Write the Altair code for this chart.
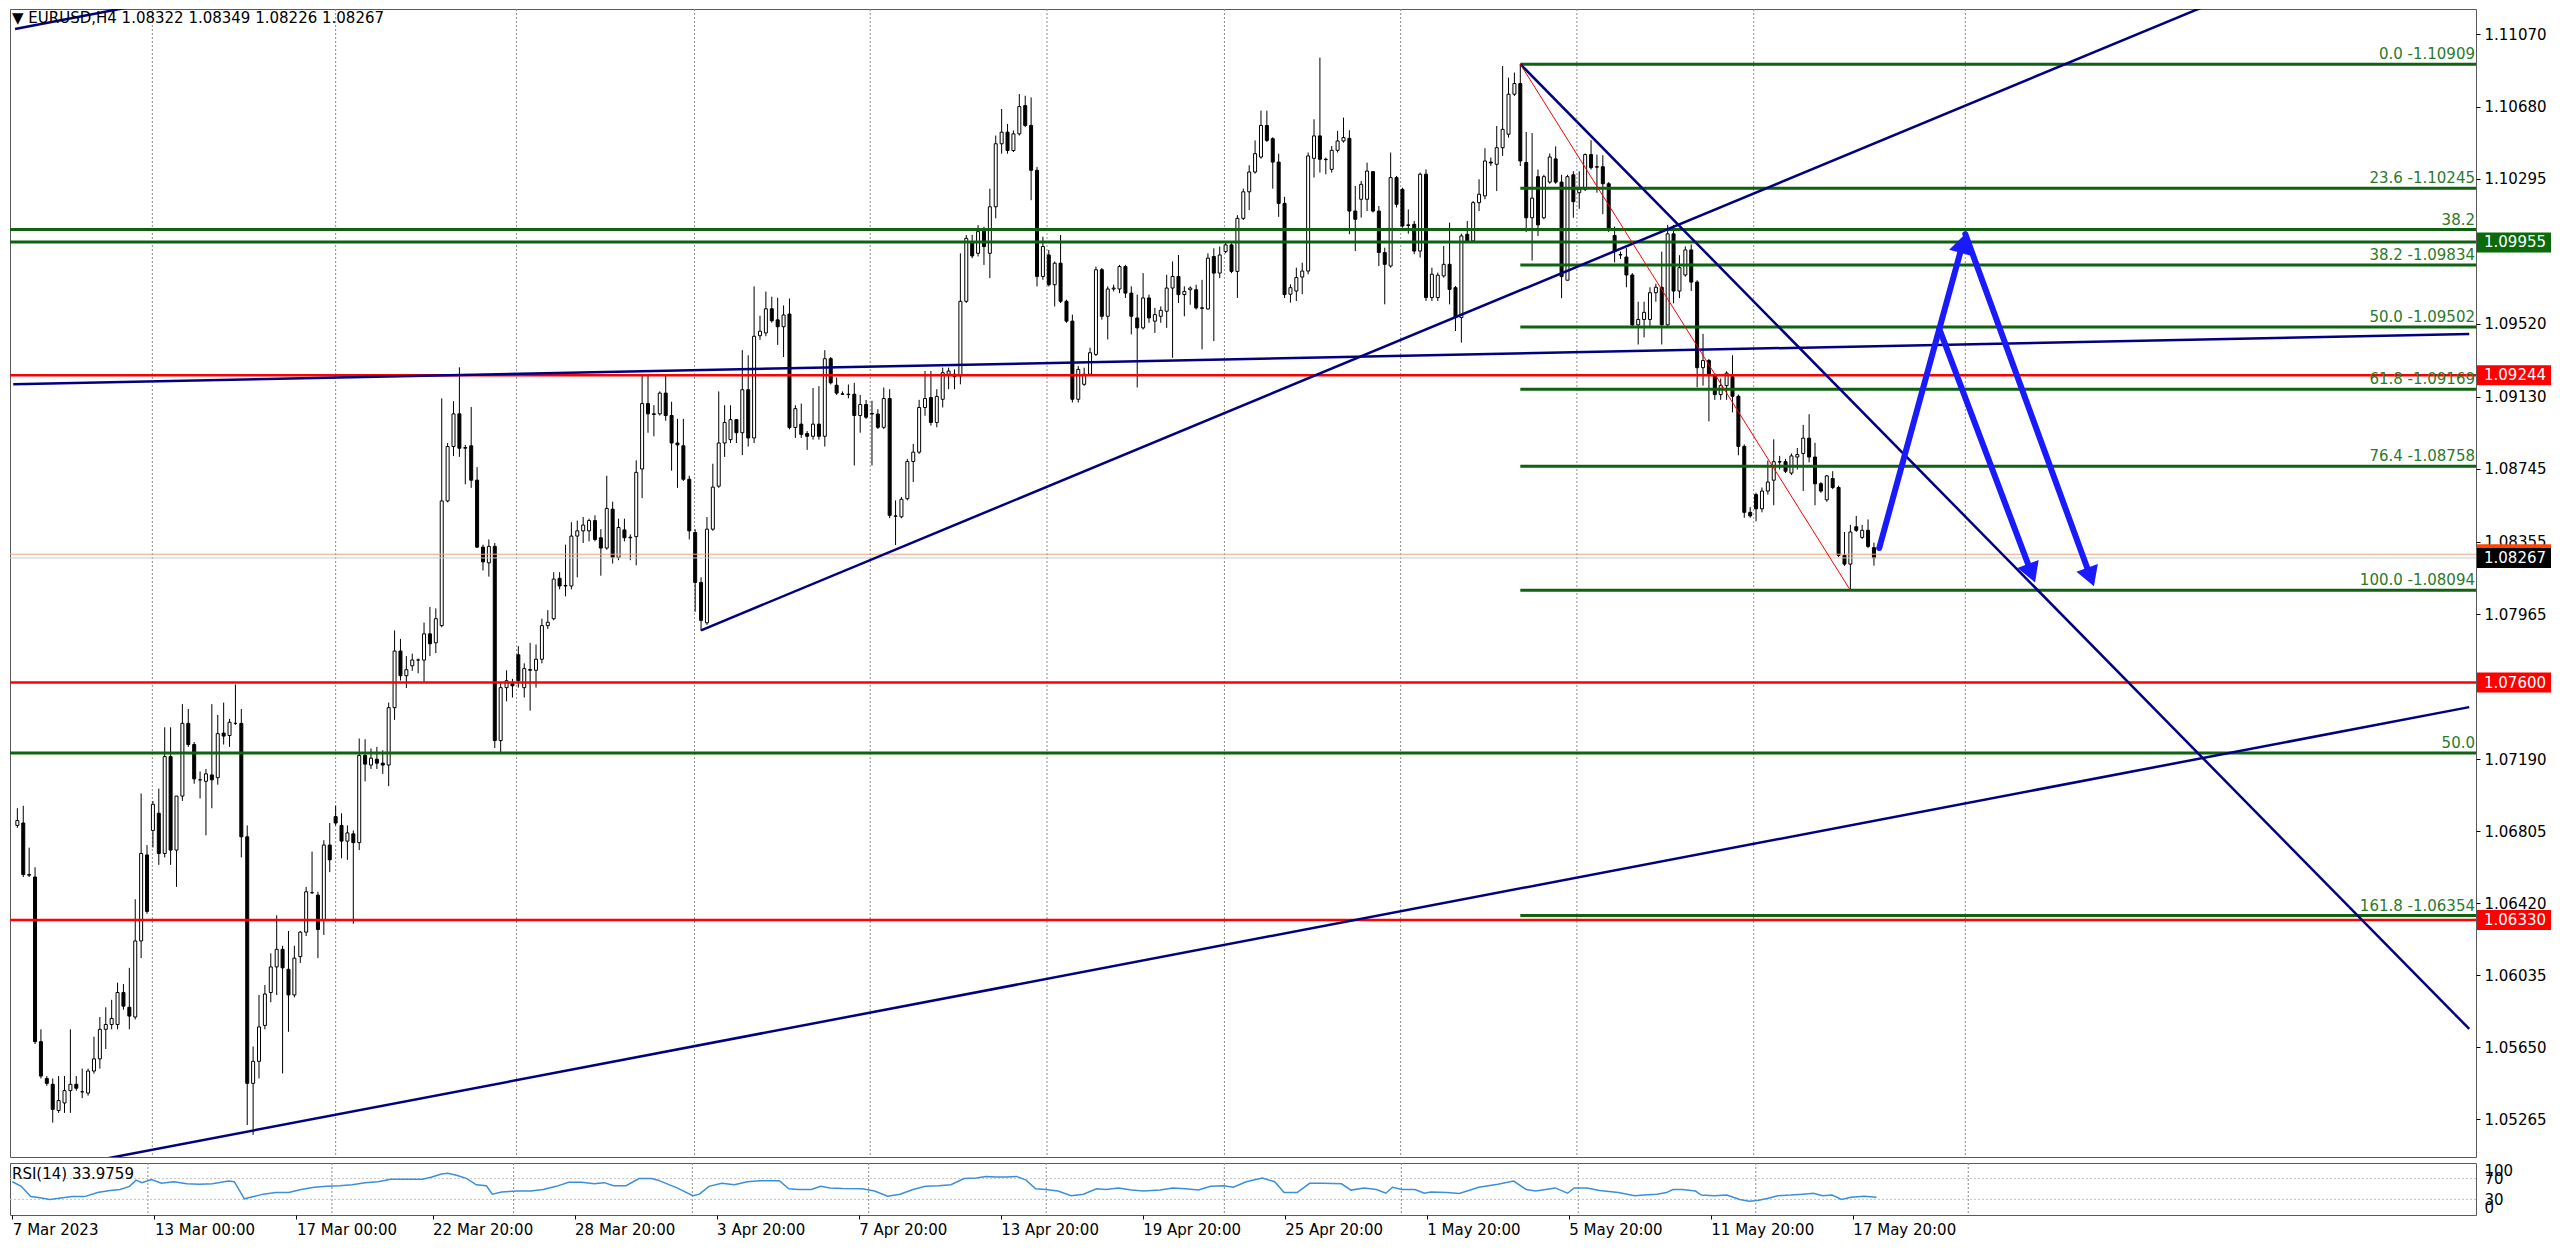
import math
import altair as alt
import pandas as pd

# ---------------- data (EURUSD H4) ----------------
opens = [
    1.06836, 1.06849, 1.06573, 1.06560, 1.05679, 1.05482, 1.05451, 1.05311, 1.05351, 1.05417,
    1.05451, 1.05411, 1.05404, 1.05522, 1.05587, 1.05745, 1.05771, 1.05771, 1.05942, 1.05863,
    1.05811, 1.06218, 1.06678, 1.06809, 1.06901, 1.06686, 1.07204, 1.06704, 1.06993, 1.07382,
    1.07269, 1.07080, 1.07072, 1.07106, 1.07091, 1.07330, 1.07317, 1.07382, 1.07382, 1.06775,
    1.05456, 1.05574, 1.05766, 1.05942, 1.06079, 1.06173, 1.06066, 1.05929, 1.06134, 1.06265,
    1.06476, 1.06463, 1.06331, 1.06731, 1.06883, 1.06836, 1.06752, 1.06791, 1.06744, 1.07211,
    1.07159, 1.07190, 1.07169, 1.07159, 1.07466, 1.07769, 1.07637, 1.07690, 1.07721, 1.07721,
    1.07861, 1.07813, 1.07905, 1.08572, 1.08863, 1.09038, 1.08854, 1.08867, 1.08683, 1.08325,
    1.08241, 1.08329, 1.07290, 1.07573, 1.07601, 1.07749, 1.07573, 1.07666, 1.07666, 1.07725,
    1.07905, 1.07942, 1.08158, 1.08117, 1.08117, 1.08384, 1.08412, 1.08412, 1.08467, 1.08375,
    1.08320, 1.08528, 1.08270, 1.08417, 1.08375, 1.08381, 1.08743, 1.09093, 1.09038, 1.09038,
    1.09149, 1.09029, 1.08882, 1.08867, 1.08688, 1.08403, 1.08136, 1.07920, 1.08421, 1.08651,
    1.08882, 1.08900, 1.09007, 1.08937, 1.09167, 1.08909, 1.09456, 1.09471, 1.09600, 1.09541,
    1.09504, 1.09572, 1.08965, 1.08983, 1.08933, 1.08918, 1.08983, 1.08918, 1.09333, 1.09191,
    1.09145, 1.09143, 1.09143, 1.09029, 1.09088, 1.09037, 1.09037, 1.08966, 1.09120, 1.08492,
    1.08487, 1.08584, 1.08783, 1.08833, 1.09072, 1.09125, 1.08992, 1.09116, 1.09250, 1.09250,
    1.09241, 1.09640, 1.09960, 1.09897, 1.10021, 1.09897, 1.10146, 1.10483, 1.10545, 1.10447,
    1.10536, 1.10687, 1.10581, 1.10341, 1.09773, 1.09888, 1.09729, 1.09844, 1.09640, 1.09534,
    1.09116, 1.09196, 1.09250, 1.09356, 1.09809, 1.09560, 1.09706, 1.09706, 1.09826, 1.09684,
    1.09551, 1.09498, 1.09658, 1.09534, 1.09560, 1.09587, 1.09711, 1.09773, 1.09676, 1.09702,
    1.09702, 1.09605, 1.09599, 1.09880, 1.09791, 1.09906, 1.09942, 1.09800, 1.10084, 1.10226,
    1.10332, 1.10412, 1.10581, 1.10510, 1.10385, 1.10164, 1.09678, 1.09695, 1.09770, 1.09802,
    1.10405, 1.10525, 1.10400, 1.10346, 1.10448, 1.10498, 1.10512, 1.10123, 1.10186, 1.10186,
    1.10334, 1.10123, 1.09901, 1.09829, 1.10302, 1.10239, 1.10049, 1.10052, 1.09909, 1.10320,
    1.09660, 1.09660, 1.09776, 1.09838, 1.09713, 1.09553, 1.09999, 1.09963, 1.10168, 1.10204,
    1.10385, 1.10373, 1.10462, 1.10534, 1.10748, 1.10805, 1.10383, 1.10087, 1.10307, 1.10087,
    1.10278, 1.10402, 1.10278, 1.09753, 1.10317, 1.10221, 1.10240, 1.10425, 1.10360, 1.10360,
    1.10269, 1.09992, 1.09890, 1.09877, 1.09781, 1.09514, 1.09543, 1.09543, 1.09686, 1.09715,
    1.09514, 1.10001, 1.09695, 1.09781, 1.09915, 1.09743, 1.09285, 1.09323, 1.09247, 1.09141,
    1.09189, 1.09237, 1.09132, 1.08864, 1.08511, 1.08606, 1.08530, 1.08625, 1.08683, 1.08782,
    1.08782, 1.08721, 1.08807, 1.08826, 1.08908, 1.08807, 1.08664, 1.08578, 1.08692, 1.08644,
    1.08281, 1.08234, 1.08434, 1.08377, 1.08415, 1.08322,
]
highs = [
    1.06928, 1.06941, 1.06717, 1.06612, 1.05745, 1.05495, 1.05482, 1.05495, 1.05495, 1.05745,
    1.05495, 1.05535, 1.05535, 1.05706, 1.05811, 1.05863, 1.05903, 1.05995, 1.05987, 1.06074,
    1.06441, 1.07007, 1.06731, 1.06967, 1.07033, 1.07361, 1.07361, 1.06993, 1.07485, 1.07459,
    1.07282, 1.07125, 1.07138, 1.07485, 1.07427, 1.07493, 1.07406, 1.07590, 1.07459, 1.06836,
    1.05653, 1.05929, 1.05982, 1.06152, 1.06355, 1.06192, 1.06271, 1.06192, 1.06271, 1.06507,
    1.06696, 1.06481, 1.06757, 1.06849, 1.06941, 1.06901, 1.06836, 1.06809, 1.07301, 1.07297,
    1.07248, 1.07256, 1.07238, 1.07493, 1.07879, 1.07834, 1.07742, 1.07755, 1.07729, 1.07921,
    1.08005, 1.07997, 1.09121, 1.08882, 1.09106, 1.09287, 1.08872, 1.09075, 1.08753, 1.08338,
    1.08366, 1.08347, 1.07601, 1.07666, 1.07620, 1.07795, 1.07703, 1.07813, 1.07804, 1.07942,
    1.07988, 1.08191, 1.08191, 1.08338, 1.08458, 1.08467, 1.08486, 1.08477, 1.08495, 1.08421,
    1.08707, 1.08568, 1.08477, 1.08477, 1.08393, 1.08789, 1.09250, 1.09250, 1.09084, 1.09158,
    1.09250, 1.09103, 1.09011, 1.09011, 1.08707, 1.08421, 1.08163, 1.08486, 1.08771, 1.09158,
    1.09084, 1.09084, 1.09011, 1.09379, 1.09351, 1.09720, 1.09563, 1.09692, 1.09665, 1.09659,
    1.09618, 1.09655, 1.09084, 1.09093, 1.08946, 1.09176, 1.09186, 1.09379, 1.09342, 1.09232,
    1.09158, 1.09195, 1.09204, 1.09139, 1.09112, 1.09108, 1.09063, 1.09179, 1.09170, 1.08575,
    1.08593, 1.08797, 1.08877, 1.09113, 1.09267, 1.09267, 1.09170, 1.09285, 1.09285, 1.09276,
    1.09897, 1.09995, 1.09995, 1.10048, 1.10039, 1.10243, 1.10527, 1.10669, 1.10589, 1.10554,
    1.10749, 1.10740, 1.10731, 1.10359, 1.09986, 1.09915, 1.09853, 1.09995, 1.09649, 1.09569,
    1.09294, 1.09285, 1.09392, 1.09826, 1.09818, 1.09720, 1.09729, 1.09835, 1.09835, 1.09720,
    1.09676, 1.09791, 1.09676, 1.09605, 1.09613, 1.09782, 1.09853, 1.09888, 1.09720, 1.09720,
    1.09729, 1.09755, 1.09897, 1.09924, 1.09933, 1.09960, 1.09951, 1.10101, 1.10243, 1.10368,
    1.10501, 1.10660, 1.10660, 1.10518, 1.10430, 1.10199, 1.09731, 1.09820, 1.09847, 1.10436,
    1.10614, 1.10944, 1.10409, 1.10471, 1.10552, 1.10623, 1.10555, 1.10257, 1.10284, 1.10382,
    1.10337, 1.10150, 1.09927, 1.10436, 1.10311, 1.10248, 1.10132, 1.10070, 1.10329, 1.10346,
    1.09820, 1.09794, 1.09936, 1.10061, 1.09722, 1.10002, 1.10070, 1.10177, 1.10293, 1.10459,
    1.10409, 1.10578, 1.10899, 1.10837, 1.10864, 1.10909, 1.10546, 1.10540, 1.10345, 1.10317,
    1.10431, 1.10469, 1.10317, 1.10317, 1.10336, 1.10336, 1.10431, 1.10502, 1.10425, 1.10422,
    1.10278, 1.10040, 1.09906, 1.09925, 1.09791, 1.09638, 1.09638, 1.09715, 1.09734, 1.09906,
    1.10049, 1.10049, 1.09887, 1.09934, 1.09944, 1.09753, 1.09466, 1.09332, 1.09256, 1.09227,
    1.09266, 1.09352, 1.09141, 1.08874, 1.08539, 1.08616, 1.08644, 1.08788, 1.08902, 1.08813,
    1.08797, 1.08826, 1.08855, 1.08979, 1.09036, 1.08883, 1.08673, 1.08711, 1.08731, 1.08654,
    1.08406, 1.08444, 1.08492, 1.08444, 1.08473, 1.08349,
]
lows = [
    1.06823, 1.06560, 1.06560, 1.05666, 1.05482, 1.05443, 1.05246, 1.05298, 1.05298, 1.05298,
    1.05417, 1.05377, 1.05390, 1.05508, 1.05535, 1.05640, 1.05745, 1.05745, 1.05850, 1.05745,
    1.05798, 1.06126, 1.06363, 1.06718, 1.06625, 1.06665, 1.06625, 1.06507, 1.06967, 1.07256,
    1.07059, 1.06980, 1.06783, 1.06928, 1.07054, 1.07269, 1.07256, 1.07374, 1.06665, 1.05233,
    1.05180, 1.05482, 1.05745, 1.05890, 1.05929, 1.05509, 1.05732, 1.05916, 1.06100, 1.06244,
    1.06470, 1.06126, 1.06250, 1.06586, 1.06836, 1.06660, 1.06652, 1.06310, 1.06704, 1.07072,
    1.07138, 1.07138, 1.07112, 1.07046, 1.07401, 1.07611, 1.07571, 1.07663, 1.07650, 1.07598,
    1.07742, 1.07758, 1.07896, 1.08565, 1.08812, 1.08808, 1.08661, 1.08642, 1.08320, 1.08200,
    1.08167, 1.07250, 1.07220, 1.07500, 1.07520, 1.07573, 1.07520, 1.07450, 1.07573, 1.07703,
    1.07887, 1.07933, 1.08099, 1.08062, 1.08099, 1.08163, 1.08347, 1.08356, 1.08356, 1.08172,
    1.08311, 1.08237, 1.08255, 1.08356, 1.08255, 1.08228, 1.08587, 1.08937, 1.08918, 1.09029,
    1.09001, 1.08734, 1.08642, 1.08679, 1.08366, 1.07979, 1.07878, 1.07909, 1.08412, 1.08642,
    1.08808, 1.08882, 1.08882, 1.08817, 1.08863, 1.08882, 1.09434, 1.09453, 1.09526, 1.09407,
    1.09342, 1.08955, 1.08909, 1.08909, 1.08845, 1.08900, 1.08900, 1.08863, 1.09195, 1.09139,
    1.09139, 1.09121, 1.08762, 1.08937, 1.09011, 1.08762, 1.08957, 1.08957, 1.08480, 1.08336,
    1.08480, 1.08575, 1.08673, 1.08824, 1.09028, 1.08975, 1.08966, 1.09072, 1.09170, 1.09170,
    1.09196, 1.09631, 1.09871, 1.09880, 1.09835, 1.09764, 1.10084, 1.10430, 1.10430, 1.10439,
    1.10527, 1.10572, 1.10181, 1.09720, 1.09755, 1.09720, 1.09613, 1.09631, 1.09525, 1.09099,
    1.09099, 1.09188, 1.09241, 1.09347, 1.09542, 1.09436, 1.09693, 1.09684, 1.09658, 1.09463,
    1.09179, 1.09489, 1.09525, 1.09471, 1.09525, 1.09498, 1.09338, 1.09631, 1.09560, 1.09622,
    1.09596, 1.09383, 1.09596, 1.09427, 1.09764, 1.09897, 1.09791, 1.09658, 1.10075, 1.10128,
    1.10323, 1.10403, 1.10492, 1.10243, 1.10092, 1.09658, 1.09633, 1.09642, 1.09678, 1.09785,
    1.10302, 1.10329, 1.10320, 1.10329, 1.10436, 1.10489, 1.09999, 1.09909, 1.10088, 1.10123,
    1.10115, 1.09829, 1.09624, 1.09820, 1.10142, 1.10034, 1.10002, 1.09892, 1.09874, 1.09642,
    1.09642, 1.09642, 1.09767, 1.09624, 1.09481, 1.09419, 1.09954, 1.09954, 1.10123, 1.10186,
    1.10364, 1.10230, 1.10418, 1.10516, 1.10739, 1.10364, 1.10011, 1.09858, 1.09990, 1.10079,
    1.10269, 1.10269, 1.09657, 1.09753, 1.10087, 1.10135, 1.10230, 1.10345, 1.10221, 1.10106,
    1.10011, 1.09848, 1.09867, 1.09715, 1.09505, 1.09409, 1.09447, 1.09505, 1.09638, 1.09409,
    1.09505, 1.09629, 1.09657, 1.09772, 1.09695, 1.09180, 1.09189, 1.08998, 1.09113, 1.09113,
    1.09113, 1.09046, 1.08816, 1.08482, 1.08482, 1.08463, 1.08511, 1.08606, 1.08549, 1.08740,
    1.08721, 1.08711, 1.08740, 1.08625, 1.08778, 1.08549, 1.08616, 1.08568, 1.08635, 1.08272,
    1.08224, 1.08094, 1.08406, 1.08368, 1.08320, 1.08226,
]
closes = [
    1.06862, 1.06573, 1.06570, 1.05679, 1.05495, 1.05456, 1.05317, 1.05364, 1.05417, 1.05451,
    1.05430, 1.05411, 1.05522, 1.05587, 1.05745, 1.05771, 1.05803, 1.05942, 1.05869, 1.05816,
    1.06218, 1.06686, 1.06376, 1.06949, 1.06686, 1.07204, 1.06704, 1.06993, 1.07382, 1.07269,
    1.07085, 1.07080, 1.07112, 1.07080, 1.07327, 1.07314, 1.07388, 1.07382, 1.06775, 1.05456,
    1.05574, 1.05758, 1.05934, 1.06079, 1.06173, 1.06074, 1.05929, 1.06126, 1.06265, 1.06481,
    1.06476, 1.06279, 1.06731, 1.06652, 1.06849, 1.06752, 1.06796, 1.06744, 1.07211, 1.07164,
    1.07196, 1.07169, 1.07159, 1.07466, 1.07769, 1.07637, 1.07669, 1.07721, 1.07721, 1.07861,
    1.07808, 1.07942, 1.08572, 1.08863, 1.09038, 1.08854, 1.08858, 1.08683, 1.08325, 1.08246,
    1.08329, 1.07290, 1.07573, 1.07610, 1.07583, 1.07610, 1.07675, 1.07670, 1.07725, 1.07905,
    1.07923, 1.08154, 1.08117, 1.08120, 1.08384, 1.08412, 1.08443, 1.08467, 1.08366, 1.08320,
    1.08532, 1.08270, 1.08430, 1.08375, 1.08378, 1.08725, 1.09093, 1.09038, 1.09035, 1.09149,
    1.09029, 1.08882, 1.08872, 1.08688, 1.08412, 1.08136, 1.07933, 1.08421, 1.08646, 1.08882,
    1.08992, 1.09007, 1.08937, 1.09167, 1.08909, 1.09453, 1.09480, 1.09600, 1.09536, 1.09504,
    1.09567, 1.08965, 1.09066, 1.08928, 1.08918, 1.08983, 1.08918, 1.09333, 1.09204, 1.09149,
    1.09143, 1.09141, 1.09029, 1.09088, 1.09020, 1.09040, 1.08966, 1.09120, 1.08495, 1.08490,
    1.08581, 1.08783, 1.08833, 1.09072, 1.09120, 1.08992, 1.09131, 1.09258, 1.09267, 1.09237,
    1.09640, 1.09977, 1.09883, 1.10013, 1.09933, 1.10146, 1.10483, 1.10545, 1.10447, 1.10536,
    1.10682, 1.10581, 1.10341, 1.09773, 1.09933, 1.09729, 1.09844, 1.09640, 1.09534, 1.09116,
    1.09276, 1.09250, 1.09365, 1.09809, 1.09560, 1.09706, 1.09711, 1.09826, 1.09684, 1.09560,
    1.09498, 1.09658, 1.09551, 1.09569, 1.09592, 1.09711, 1.09773, 1.09676, 1.09693, 1.09711,
    1.09605, 1.09603, 1.09871, 1.09791, 1.09888, 1.09942, 1.09800, 1.10084, 1.10226, 1.10332,
    1.10430, 1.10581, 1.10501, 1.10385, 1.10164, 1.09676, 1.09713, 1.09767, 1.09802, 1.10418,
    1.10525, 1.10400, 1.10398, 1.10448, 1.10498, 1.10516, 1.10123, 1.10079, 1.10266, 1.10337,
    1.10123, 1.09901, 1.09838, 1.10302, 1.10159, 1.10043, 1.10046, 1.09909, 1.10320, 1.09660,
    1.09785, 1.09780, 1.09838, 1.09704, 1.09553, 1.09990, 1.09963, 1.10168, 1.10213, 1.10391,
    1.10380, 1.10462, 1.10560, 1.10748, 1.10805, 1.10391, 1.10087, 1.10192, 1.10049, 1.10307,
    1.10412, 1.10278, 1.09772, 1.10307, 1.10173, 1.10240, 1.10425, 1.10355, 1.10358, 1.10269,
    1.10030, 1.09906, 1.09888, 1.09781, 1.09514, 1.09543, 1.09581, 1.09686, 1.09715, 1.09514,
    1.10001, 1.09695, 1.09820, 1.09915, 1.09743, 1.09285, 1.09323, 1.09247, 1.09141, 1.09189,
    1.09256, 1.09132, 1.08864, 1.08511, 1.08492, 1.08530, 1.08625, 1.08673, 1.08782, 1.08780,
    1.08731, 1.08813, 1.08820, 1.08908, 1.08807, 1.08664, 1.08625, 1.08706, 1.08644, 1.08281,
    1.08234, 1.08406, 1.08415, 1.08415, 1.08329, 1.08267,
]

# RSI(14) (bar position, value)
rsi_bar_mar_apr = [0, 1.5, 3.1, 4.7, 6.3, 7.9, 10.1, 12.2, 14.4, 16.5, 18.2, 19.8, 20.9, 21.9, 23.5,
                   25.2, 27.3, 29.5, 31.6, 33.8, 36.5, 37.5, 39.2, 40.8, 42.4, 44.5, 46.7, 48.8, 51.0,
                   53.1, 55.3, 57.4, 59.6, 61.8, 63.9, 66.1, 69.3, 70.9, 72.5, 73.6, 75.2, 76.8, 78.4,
                   80.1, 81.1, 82.7, 85.4, 87.6, 89.7, 91.9, 94.0, 96.2, 98.3, 100.0, 101.6, 103.7,
                   105.9, 108.0, 109.1, 112.3, 115.0, 116.1, 117.7, 119.9, 122.0, 124.2, 126.3, 129.6,
                   131.2, 132.8, 135.0, 136.6, 138.2, 140.3, 143.6, 145.7, 147.9, 150.0, 152.2, 154.3,
                   156.5, 158.6, 160.8, 162.9, 164.5, 166.2, 168.1]
rsi_val_mar_apr = [64.0, 55.1, 35.4, 33.0, 30.0, 32.4, 35.4, 35.4, 43.1, 47.3, 49.1, 55.1, 67.0, 62.2, 68.2,
                   61.0, 64.0, 59.9, 59.3, 59.9, 65.2, 64.0, 31.2, 35.4, 40.1, 43.1, 43.1, 49.1, 53.3,
                   55.1, 56.3, 58.1, 62.2, 64.0, 68.8, 68.8, 68.8, 73.0, 79.0, 80.1, 76.0, 70.0, 58.1,
                   56.3, 40.1, 44.3, 46.1, 46.1, 49.1, 55.1, 62.8, 62.8, 59.9, 62.2, 56.3, 56.3,
                   70.0, 70.0, 67.0, 52.1, 37.2, 40.1, 55.1, 61.0, 58.1, 64.0, 65.8, 65.8,
                   50.3, 49.1, 49.1, 55.1, 52.1, 50.9, 50.3, 46.1, 36.0, 40.1, 49.1, 55.1,
                   56.3, 58.1, 70.0, 71.2, 74.2, 73.0, 73.0]
rsi_bar_apr_may = [169.7, 171.3, 172.9, 174.6, 176.7, 178.9, 181.0, 183.2, 184.8, 186.9,
                   189.1, 191.2, 193.9, 196.1, 198.2, 200.4, 202.5, 204.7, 206.3, 208.5,
                   211.2, 213.3, 214.9, 217.1, 219.2, 221.4, 224.6, 226.2, 228.4, 230.5,
                   232.1, 233.2, 234.8, 237.0, 238.6, 239.7, 242.4, 244.5, 247.8, 251.0,
                   253.7, 255.8, 257.4, 259.1, 260.7, 262.8, 263.9, 266.1, 268.2, 271.4,
                   274.1, 275.7, 277.9, 279.5, 280.6, 282.2, 284.4, 285.4, 287.6, 289.7,
                   291.9, 293.5, 295.1, 296.7, 298.3, 300.5, 302.6, 304.3, 305.9, 307.5,
                   309.1, 310.7, 312.9, 315.0]
rsi_val_apr_may = [74.2, 67.0, 50.3, 49.1, 46.1, 37.2, 40.1, 50.3, 49.1, 52.1,
                   47.9, 46.1, 47.9, 52.1, 50.3, 47.9, 55.1, 56.3, 53.3, 64.0,
                   71.2, 64.0, 43.1, 43.1, 61.0, 61.0, 59.9, 47.9, 52.1, 49.1,
                   41.9, 53.3, 49.1, 49.1, 41.9, 44.3, 43.1, 41.3, 53.3, 59.3,
                   65.2, 49.1, 46.1, 49.1, 52.1, 41.9, 52.1, 52.1, 47.3, 43.1,
                   37.2, 38.4, 40.1, 43.1, 49.1, 49.1, 46.1, 38.4, 37.2, 38.4,
                   30.0, 26.4, 28.2, 32.4, 37.2, 38.4, 40.1, 41.9, 37.2, 38.4,
                   30.0, 34.2, 36.0, 34.0]

date_ticks = [0, 24, 48, 71, 95, 119, 143, 167, 191, 215, 239, 263, 287, 311]
date_labels = ["7 Mar 2023", "13 Mar 00:00", "17 Mar 00:00", "22 Mar 20:00", "28 Mar 20:00",
               "3 Apr 20:00", "7 Apr 20:00", "13 Apr 20:00", "19 Apr 20:00", "25 Apr 20:00",
               "1 May 20:00", "5 May 20:00", "11 May 20:00", "17 May 20:00"]
week_grid = [22.9, 54.0, 84.7, 114.9, 144.7, 174.7, 204.8, 234.7, 264.6, 294.6, 330.5]
price_ticks = [1.11070, 1.10680, 1.10295, 1.09520, 1.09130, 1.08745, 1.08355, 1.07965,
               1.07190, 1.06805, 1.06420, 1.06035, 1.05650, 1.05265]

fib_names = ["0.0", "23.6", "38.2", "50.0", "61.8", "76.4", "100.0", "161.8"]
fib_prices = [1.10909, 1.10245, 1.09834, 1.09502, 1.09169, 1.08758, 1.08094, 1.06354]
fib_high_bar, fib_low_bar = 255, 311

red_levels = [1.09244, 1.07600, 1.06330]
green_levels = [1.10024, 1.09957, 1.07223]
green_level_names = ["38.2", "", "50.0"]

trend_names = ["A", "A", "B", "B", "B2", "B2", "C", "C", "D", "D"]
trend_bars = [116, 373.3, 7.5, 416.0, -0.4, 20, -0.7, 416.0, 255, 416.0]
trend_prices = [1.07880, 1.11247, 1.05008, 1.07469, 1.11097, 1.11220, 1.09197, 1.09465, 1.10909, 1.05747]

arrow_names = ["up", "up", "down_b", "down_b", "down_a", "down_a"]
arrow_bars = [315.9, 330.5, 330.5, 352.3, 326.1, 342.3]
arrow_prices = [1.08320, 1.10000, 1.10000, 1.08117, 1.09492, 1.08138]

box_prices = [1.09955, 1.09244, 1.08287, 1.08267, 1.07600, 1.06330]
box_texts = ["1.09955", "1.09244", "", "1.08267", "1.07600", "1.06330"]
box_fills = ["#0b6b0b", "#ff0000", "#ff4500", "#000000", "#ff0000", "#ff0000"]
bid_price, ask_price = 1.08267, 1.08287

header = "\u25bc EURUSD,H4  1.08322 1.08349 1.08226 1.08267"
rsi_header = "RSI(14) 33.9759"

# ---------------- layout ----------------
W, H, RH = 2466, 1148, 52
X_DOM = [-0.4, 416.3]
Y_DOM = [1.05062, 1.11204]
PXB = W / (X_DOM[1] - X_DOM[0])
PXP = H / (Y_DOM[1] - Y_DOM[0])
FONT = "DejaVu Sans"

xs = alt.Scale(domain=X_DOM, nice=False, zero=False)
ys = alt.Scale(domain=Y_DOM, nice=False, zero=False)
y_axis = alt.Axis(orient="right", values=price_ticks, format=".5f", title=None, tickSize=4,
                  labelPadding=4, grid=False, domain=False, labelOverlap=False, labelFont=FONT,
                  labelFontSize=15, labelColor="black", tickColor="black")


def X(field="bar"):
    return alt.X(f"{field}:Q", scale=xs, axis=None)


def Y(field):
    return alt.Y(f"{field}:Q", scale=ys, axis=y_axis)


candles = pd.DataFrame({"bar": list(range(len(opens))), "open": opens, "high": highs,
                        "low": lows, "close": closes})

grid = alt.Chart(pd.DataFrame({"bar": week_grid})).mark_rule(
    color="#8a8a8a", strokeDash=[2, 2], strokeWidth=1).encode(x=X())

wicks = alt.Chart(candles).mark_rule(color="black", strokeWidth=1).encode(
    x=X(), y=Y("low"), y2="high:Q")
bodies = alt.Chart(candles).mark_bar(size=3, stroke="black", strokeWidth=1).encode(
    x=X(), y=Y("open"), y2="close:Q",
    fill=alt.condition("datum.close >= datum.open", alt.value("white"), alt.value("black")))

bid_ask = alt.Chart(pd.DataFrame({"price": [ask_price, bid_price], "col": ["#f3a27e", "#c8c8c8"]})).mark_rule(
    strokeWidth=1).encode(y=Y("price"), color=alt.Color("col:N", scale=None))

red_rules = alt.Chart(pd.DataFrame({"price": red_levels})).mark_rule(
    color="#ff0000", strokeWidth=2.5).encode(y=Y("price"))
green_df = pd.DataFrame({"price": green_levels, "name": green_level_names})
green_rules = alt.Chart(green_df).mark_rule(color="#0f620f", strokeWidth=3).encode(y=Y("price"))

fib_df = pd.DataFrame({"price": fib_prices, "start": [fib_high_bar] * len(fib_prices),
                       "label": [f"{n} -{p:.5f}" for n, p in zip(fib_names, fib_prices)]})
fib_rules = alt.Chart(fib_df).mark_rule(color="#0f620f", strokeWidth=3).encode(
    x=X("start"), x2=alt.value(W), y=Y("price"))

trend_df = pd.DataFrame({"name": trend_names, "bar": trend_bars, "price": trend_prices})
trends = alt.Chart(trend_df).mark_line(color="#000080", strokeWidth=2.5, clip=True).encode(
    x=X(), y=Y("price"), detail="name:N")

diag_df = pd.DataFrame({"bar": [fib_high_bar, fib_low_bar], "price": [fib_prices[0], fib_prices[6]]})
diag = alt.Chart(diag_df).mark_line(color="#ff0000", strokeWidth=1).encode(x=X(), y=Y("price"))

# arrows: line ends at the arrow-head centre, heads rotated along the stroke
arrow_rows, head_rows = [], []
for name in ["up", "down_b", "down_a"]:
    pts = [(b, p) for n, b, p in zip(arrow_names, arrow_bars, arrow_prices) if n == name]
    (b0, p0), (b1, p1) = pts
    dx = (b1 - b0) * PXB
    dy = -(p1 - p0) * PXP
    L = math.hypot(dx, dy)
    ux, uy = dx / L, dy / L
    back = 9.5
    cb = b1 - ux * back / PXB
    cp = p1 + uy * back / PXP
    ang = math.degrees(math.atan2(ux, -uy)) % 360
    arrow_rows += [{"name": name, "bar": b0, "price": p0}, {"name": name, "bar": cb, "price": cp}]
    head_rows.append({"bar": cb, "price": cp, "ang": ang})
arrow_lines = alt.Chart(pd.DataFrame(arrow_rows)).mark_line(
    color="#1a1aff", strokeWidth=6, strokeCap="round").encode(x=X(), y=Y("price"), detail="name:N")
arrow_heads = alt.Chart(pd.DataFrame(head_rows)).mark_point(
    shape="triangle-up", filled=True, size=520, color="#1a1aff", opacity=1).encode(
    x=X(), y=Y("price"), angle=alt.Angle("ang:Q", scale=None))

fib_text = alt.Chart(fib_df).mark_text(align="right", baseline="bottom", dy=-2, font=FONT,
                                       fontSize=15, color="#2a7a2a").encode(
    x=alt.value(W - 1), y=Y("price"), text="label:N")
green_text = alt.Chart(green_df).mark_text(align="right", baseline="bottom", dy=-2, font=FONT,
                                           fontSize=15, color="#2a7a2a").encode(
    x=alt.value(W - 1), y=Y("price"), text="name:N")

half = 10 / PXP
box_df = pd.DataFrame({"price": box_prices, "txt": box_texts, "fill": box_fills})
boxes = alt.Chart(box_df).transform_calculate(
    top=f"datum.price + {half}", bot=f"datum.price - {half}").mark_rect().encode(
    x=alt.value(W + 1), x2=alt.value(W + 75), y=Y("top"), y2="bot:Q",
    color=alt.Color("fill:N", scale=None))
box_text = alt.Chart(box_df).mark_text(align="left", baseline="middle", font=FONT, fontSize=15,
                                       color="white").encode(
    x=alt.value(W + 8), y=Y("price"), text="txt:N")

head_text = alt.Chart(pd.DataFrame({"t": [header]})).mark_text(
    align="left", baseline="middle", font=FONT, fontSize=15, color="black").encode(
    x=alt.value(2), y=alt.value(9), text="t:N")

main = alt.layer(grid, wicks, bodies, bid_ask, red_rules, green_rules, fib_rules, trends, diag,
                 arrow_lines, arrow_heads, fib_text, green_text, boxes, box_text, head_text
                 ).properties(width=W, height=H)

# ---------------- RSI pane ----------------
ticks_js = "[" + ",".join(str(t) for t in date_ticks) + "]"
labels_js = "[" + ",".join("'" + s + "'" for s in date_labels) + "]"
x_axis = alt.Axis(values=date_ticks, labelExpr=f"{labels_js}[indexof({ticks_js}, datum.value)]",
                  labelAlign="left", labelBaseline="top", tickSize=4, labelPadding=3, labelFont=FONT,
                  labelFontSize=15, labelColor="black", tickColor="black", domain=False, grid=False,
                  title=None, labelOverlap=False, labelFlush=False, labelBound=False)
rs = alt.Scale(domain=[0, 100], nice=False, zero=True)
r_axis = alt.Axis(orient="right", values=[0, 30, 70, 100], title=None, tickSize=0, labelPadding=8,
                  labelFlush=True, labelOverlap=False, grid=False, domain=False, labelFont=FONT,
                  labelFontSize=15, labelColor="black")
XR = alt.X("bar:Q", scale=xs, axis=x_axis)

rsi_df = pd.DataFrame({"bar": rsi_bar_mar_apr + rsi_bar_apr_may, "rsi": rsi_val_mar_apr + rsi_val_apr_may})
r_grid = alt.Chart(pd.DataFrame({"bar": week_grid})).mark_rule(
    color="#8a8a8a", strokeDash=[2, 2], strokeWidth=1).encode(x=XR)
r_levels = alt.Chart(pd.DataFrame({"lvl": [30, 70]})).mark_rule(
    color="#c4c4c4", strokeDash=[2, 2], strokeWidth=1).encode(y=alt.Y("lvl:Q", scale=rs, axis=r_axis))
r_line = alt.Chart(rsi_df).mark_line(color="#3a8fda", strokeWidth=1.5).encode(
    x=XR, y=alt.Y("rsi:Q", scale=rs, axis=r_axis))
r_text = alt.Chart(pd.DataFrame({"t": [rsi_header]})).mark_text(
    align="left", baseline="middle", font=FONT, fontSize=15, color="black").encode(
    x=alt.value(2), y=alt.value(11), text="t:N")
rsi = alt.layer(r_grid, r_levels, r_line, r_text).properties(width=W, height=RH)

chart = alt.vconcat(main, rsi, spacing=4).properties(padding=0).configure(
    background="white").configure_view(stroke="#5a5a5a", strokeWidth=1)

chart.save("out.html", embed_options={"renderer": "svg", "actions": False})
